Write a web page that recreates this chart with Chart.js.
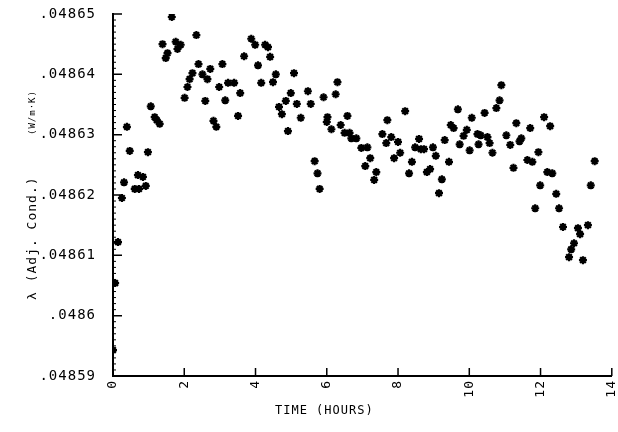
<!DOCTYPE html>
<html>
<head>
<meta charset="utf-8">
<script src="https://cdn.jsdelivr.net/npm/chart.js@4/dist/chart.umd.min.js"></script>
<style>
  html, body { margin: 0; padding: 0; background: #fff; }
  #wrap { width: 618px; height: 432px; }
</style>
</head>
<body>
<div id="wrap"><canvas id="myChart" width="618" height="432"></canvas></div>
<script>
// elapsed time (hours) and adjusted conductivity λ (W/m·K)
const hours = [
  0.00, 0.06, 0.14, 0.25, 0.31, 0.39, 0.47, 0.61, 0.70, 0.73,
  0.84, 0.92, 0.98, 1.06, 1.17, 1.23, 1.31, 1.39, 1.48, 1.53,
  1.65, 1.76, 1.81, 1.90, 2.01, 2.09, 2.15, 2.23, 2.34, 2.40,
  2.51, 2.59, 2.65, 2.73, 2.82, 2.90, 2.98, 3.07, 3.15, 3.23,
  3.40, 3.51, 3.57, 3.68, 3.88, 3.99, 4.07, 4.16, 4.27, 4.35,
  4.41, 4.49, 4.57, 4.66, 4.74, 4.85, 4.91, 4.99, 5.08, 5.16,
  5.27, 5.47, 5.55, 5.66, 5.74, 5.80, 5.91, 6.00, 6.02, 6.13,
  6.25, 6.30, 6.39, 6.50, 6.58, 6.64, 6.69, 6.83, 6.97, 7.08,
  7.14, 7.22, 7.33, 7.39, 7.56, 7.67, 7.70, 7.81, 7.89, 8.00,
  8.06, 8.20, 8.31, 8.39, 8.48, 8.59, 8.64, 8.73, 8.81, 8.90,
  8.98, 9.06, 9.15, 9.23, 9.31, 9.43, 9.48, 9.56, 9.68, 9.73,
  9.84, 9.93, 10.01, 10.07, 10.23, 10.32, 10.26, 10.43, 10.51, 10.57,
  10.65, 10.76, 10.85, 10.90, 11.04, 11.15, 11.24, 11.32, 11.41, 11.46,
  11.63, 11.71, 11.77, 11.85, 11.94, 11.99, 12.10, 12.19, 12.27, 12.33,
  12.44, 12.52, 12.63, 12.80, 12.86, 12.94, 13.05, 13.11, 13.19, 13.33,
  13.41, 13.52
];
const lambda = [
  0.0485943, 0.0486054, 0.0486122, 0.0486195, 0.0486221, 0.0486313, 0.0486273, 0.0486210, 0.0486233, 0.0486210,
  0.0486230, 0.0486215, 0.0486271, 0.0486347, 0.0486329, 0.0486324, 0.0486318, 0.0486450, 0.0486427, 0.0486435,
  0.0486495, 0.0486454, 0.0486442, 0.0486449, 0.0486361, 0.0486379, 0.0486392, 0.0486402, 0.0486465, 0.0486417,
  0.0486400, 0.0486356, 0.0486392, 0.0486409, 0.0486323, 0.0486313, 0.0486379, 0.0486417, 0.0486357, 0.0486386,
  0.0486386, 0.0486331, 0.0486369, 0.0486430, 0.0486459, 0.0486449, 0.0486415, 0.0486386, 0.0486449, 0.0486445,
  0.0486429, 0.0486387, 0.0486400, 0.0486346, 0.0486334, 0.0486356, 0.0486306, 0.0486369, 0.0486402, 0.0486351,
  0.0486328, 0.0486372, 0.0486351, 0.0486256, 0.0486236, 0.0486210, 0.0486362, 0.0486321, 0.0486329, 0.0486309,
  0.0486367, 0.0486387, 0.0486316, 0.0486303, 0.0486331, 0.0486303, 0.0486294, 0.0486294, 0.0486278, 0.0486248,
  0.0486279, 0.0486261, 0.0486225, 0.0486238, 0.0486301, 0.0486286, 0.0486324, 0.0486296, 0.0486261, 0.0486288,
  0.0486270, 0.0486339, 0.0486236, 0.0486255, 0.0486279, 0.0486293, 0.0486276, 0.0486276, 0.0486238, 0.0486243,
  0.0486279, 0.0486265, 0.0486203, 0.0486226, 0.0486291, 0.0486255, 0.0486316, 0.0486311, 0.0486342, 0.0486284,
  0.0486298, 0.0486308, 0.0486274, 0.0486328, 0.0486301, 0.0486299, 0.0486284, 0.0486336, 0.0486296, 0.0486286,
  0.0486270, 0.0486344, 0.0486357, 0.0486382, 0.0486299, 0.0486283, 0.0486245, 0.0486319, 0.0486289, 0.0486294,
  0.0486258, 0.0486311, 0.0486255, 0.0486178, 0.0486271, 0.0486216, 0.0486329, 0.0486238, 0.0486314, 0.0486236,
  0.0486202, 0.0486178, 0.0486147, 0.0486097, 0.0486110, 0.0486120, 0.0486145, 0.0486135, 0.0486092, 0.0486150,
  0.0486216, 0.0486256
];

// axis ranges and tick labels
const xMin = 0, xMax = 14, xStep = 2;
const xTickLabels = ['0', '2', '4', '6', '8', '10', '12', '14'];
const yMin = 0.04859, yMax = 0.04865, yStep = 0.00001;
const yTickLabels = ['.04859', '.0486', '.04861', '.04862', '.04863', '.04864', '.04865'];

const xTitle = 'TIME (HOURS)';
const yTitle = 'λ (Adj. Cond.)';
const yUnits = '(W/m·K)';

const FONT = "'DejaVu Sans Mono', 'Liberation Mono', monospace";

// ticks point into the plot, x labels turned on their side, axis titles
const innerTicks = {
  id: 'innerTicks',
  beforeDraw(chart) {
    chart.ctx.letterSpacing = '1px';
  },
  afterDraw(chart) {
    const ctx = chart.ctx;
    const xs = chart.scales.x, ys = chart.scales.y;
    const area = chart.chartArea;
    ctx.save();
    ctx.strokeStyle = '#000';
    ctx.lineWidth = 1.5;
    ctx.beginPath();
    xs.ticks.forEach(t => {
      const px = xs.getPixelForValue(t.value);
      ctx.moveTo(px, area.bottom);
      ctx.lineTo(px, area.bottom - 8);
    });
    ys.ticks.forEach(t => {
      const py = ys.getPixelForValue(t.value);
      ctx.moveTo(area.left, py);
      ctx.lineTo(area.left + 9, py);
    });
    ctx.stroke();
    ctx.lineWidth = 1;
    ctx.beginPath();
    for (let i = 0; i <= 60; i++) {
      if (i % 10 === 0) continue;
      const py = ys.getPixelForValue(yMin + i * yStep / 10);
      ctx.moveTo(area.left, py);
      ctx.lineTo(area.left + 3, py);
    }
    ctx.stroke();

    ctx.fillStyle = '#000';
    ctx.font = '13px ' + FONT;
    ctx.textAlign = 'right';
    ctx.textBaseline = 'middle';
    xs.ticks.forEach(t => {
      const px = xs.getPixelForValue(t.value);
      const lab = xTickLabels[Math.round((t.value - xMin) / xStep)];
      ctx.save();
      ctx.translate(px, area.bottom + 4);
      ctx.rotate(-Math.PI / 2);
      ctx.fillText(lab, 0, 0);
      ctx.restore();
    });

    // axis titles
    ctx.textBaseline = 'middle';
    ctx.textAlign = 'left';
    ctx.font = '12px ' + FONT;
    ctx.fillText(xTitle, area.left + 162, area.bottom + 35);

    ctx.translate(area.left - 80, area.bottom);
    ctx.rotate(-Math.PI / 2);
    ctx.font = '13px ' + FONT;
    ctx.fillText(yTitle, 76, 0);
    ctx.font = '9px ' + FONT;
    ctx.fillText(yUnits, 241, 0);
    ctx.restore();
  }
};

const points = hours.map((h, i) => ({ x: h, y: lambda[i] }));

const ctx = document.getElementById('myChart').getContext('2d');
const myChart = new Chart(ctx, {
  type: 'scatter',
  data: {
    datasets: [{
      label: 'λ',
      data: points,
      pointStyle: 'star',
      radius: 4,
      borderWidth: 2.2,
      borderColor: '#000',
      backgroundColor: '#000'
    }]
  },
  options: {
    responsive: false,
    animation: false,
    layout: { padding: { top: 14, right: 3, bottom: 0, left: 0 } },
    plugins: {
      legend: { display: false },
      tooltip: { enabled: false }
    },
    scales: {
      x: {
        type: 'linear',
        min: xMin,
        max: xMax,
        grid: { display: false },
        border: { display: true, color: '#000', width: 2 },
        ticks: {
          stepSize: xStep,
          display: false
        },
        afterFit(scale) {
          scale.height = 56;
          scale.paddingLeft = 0;
          scale.paddingRight = 0;
        }
      },
      y: {
        min: yMin,
        max: yMax,
        grid: { display: false },
        border: { display: true, color: '#000', width: 2 },
        ticks: {
          stepSize: yStep,
          padding: 9,
          color: '#000',
          font: { family: FONT, size: 14 },
          callback: v => yTickLabels[Math.round((v - yMin) / yStep)]
        },
        afterFit(scale) {
          scale.width = 113;
          scale.paddingTop = 0;
          scale.paddingBottom = 0;
        }
      }
    }
  },
  plugins: [innerTicks]
});
</script>
</body>
</html>
